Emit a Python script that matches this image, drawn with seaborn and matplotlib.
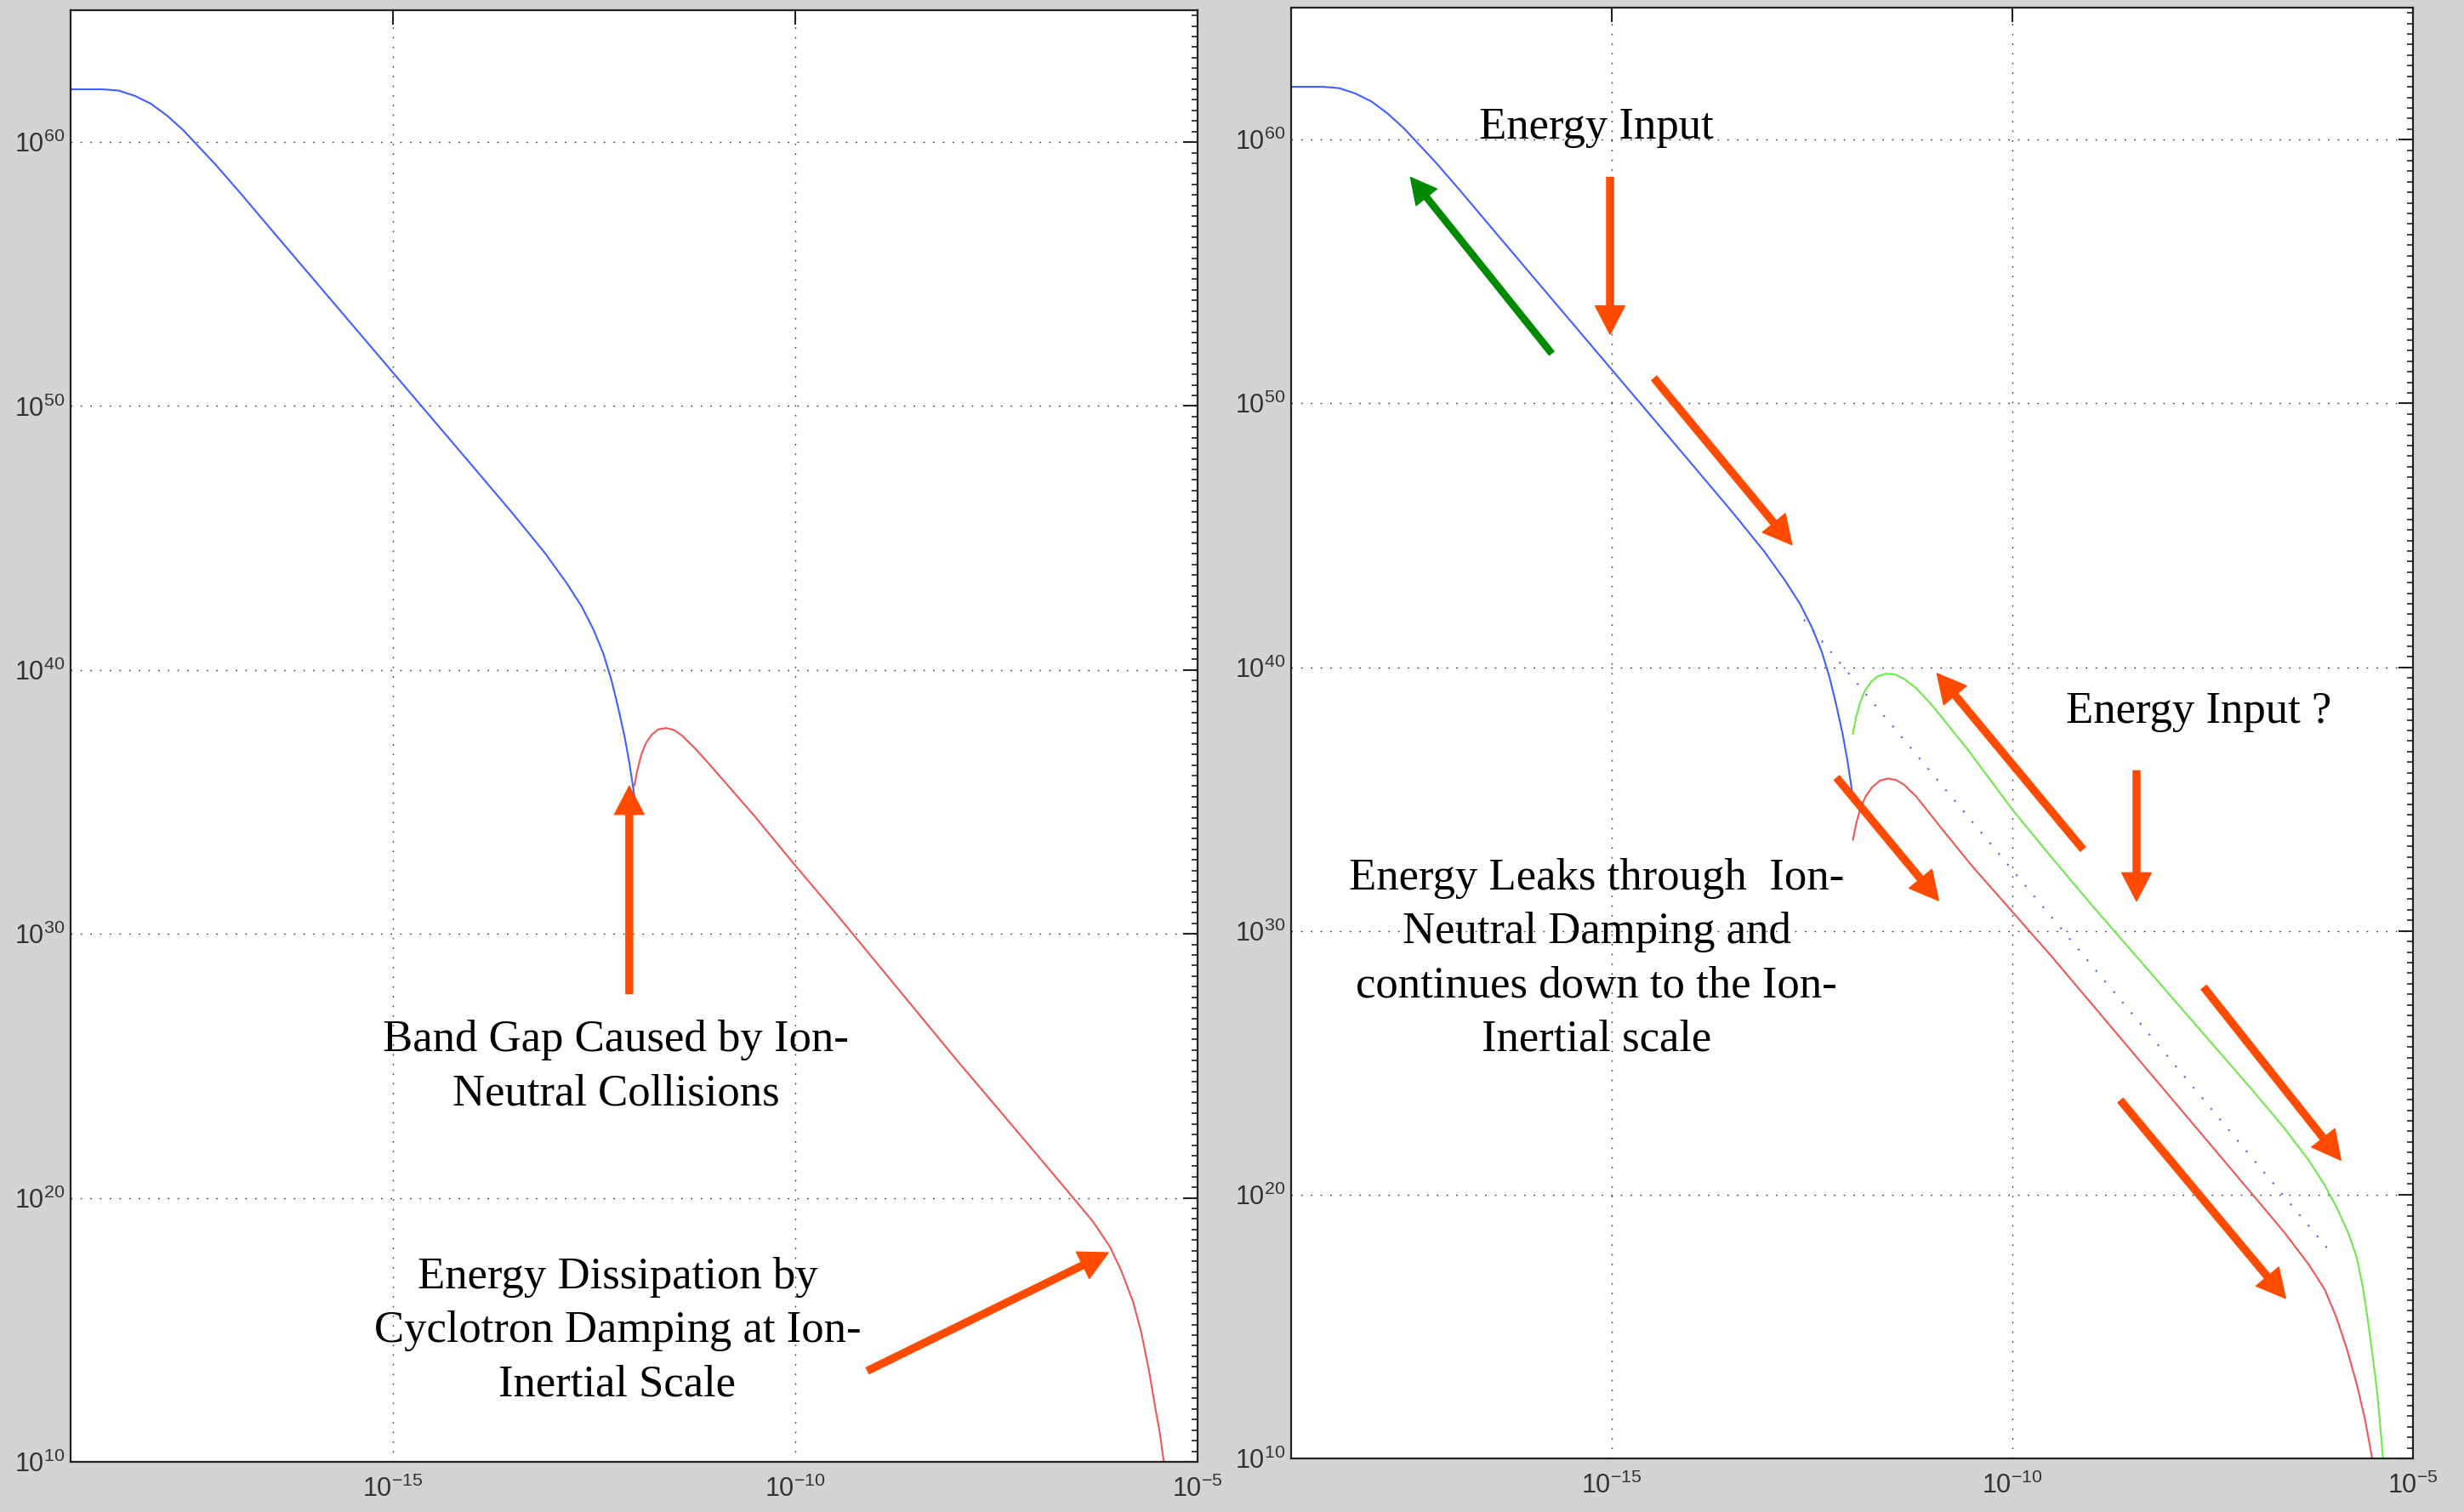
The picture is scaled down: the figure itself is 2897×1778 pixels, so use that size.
import numpy as np
import pandas as pd
import matplotlib
matplotlib.use("Agg")
import matplotlib.pyplot as plt
import seaborn as sns
from matplotlib.ticker import FixedLocator, FuncFormatter, NullLocator, NullFormatter

# curve values as log10(x), log10(y)
blue_lx = [-19.0, -18.6, -18.4, -18.2, -18.0, -17.8, -17.6, -17.4, -17.2, -16.9, -16.4, -15.8,
           -15.2, -14.6, -14.0, -13.5, -13.1, -12.84, -12.65, -12.5, -12.38, -12.28, -12.2,
           -12.12, -12.06, -12.02, -11.99]
blue_ly = [62.0, 62.0, 61.95, 61.75, 61.45, 61.0, 60.45, 59.8, 59.15, 58.1, 56.3, 54.15,
           52.0, 49.85, 47.7, 45.9, 44.4, 43.3, 42.4, 41.5, 40.6, 39.6, 38.6,
           37.5, 36.5, 35.7, 35.1]

left_red_lx = [-12.0, -11.96, -11.91, -11.85, -11.78, -11.7, -11.6, -11.5, -11.4, -11.25, -11.1,
               -10.8, -10.5, -10.0, -9.5, -9.0, -8.5, -8.0, -7.5, -7.0, -6.6, -6.3, -6.09,
               -5.95, -5.8, -5.7, -5.61, -5.54, -5.47, -5.42]
left_red_ly = [35.6, 36.2, 36.8, 37.25, 37.55, 37.75, 37.8, 37.72, 37.5, 37.05, 36.55,
               35.5, 34.45, 32.6, 30.8, 28.95, 27.1, 25.25, 23.45, 21.65, 20.2, 19.1, 18.15,
               17.25, 16.05, 14.9, 13.55, 12.3, 11.1, 10.0]

green_lx = [-11.99, -11.95, -11.9, -11.84, -11.76, -11.68, -11.58, -11.46, -11.35, -11.2, -11.0,
            -10.55, -10.0, -9.5, -9.0, -8.5, -8.0, -7.5, -7.0, -6.6, -6.3, -6.1, -5.95, -5.8,
            -5.7, -5.62, -5.55, -5.5, -5.45, -5.41, -5.37]
green_ly = [37.47, 38.1, 38.65, 39.1, 39.45, 39.65, 39.75, 39.72, 39.55, 39.2, 38.55,
            36.85, 34.6, 32.75, 30.95, 29.2, 27.45, 25.7, 23.95, 22.5, 21.3, 20.35, 19.5, 18.5,
            17.6, 16.4, 14.95, 13.8, 12.6, 11.3, 9.85]

right_red_lx = [-11.99, -11.95, -11.9, -11.83, -11.75, -11.65, -11.55, -11.45, -11.35, -11.2,
                -10.9, -10.5, -10.0, -9.5, -9.0, -8.5, -8.0, -7.5, -7.0, -6.6, -6.3, -6.1,
                -5.95, -5.82, -5.7, -5.6, -5.5]
right_red_ly = [33.45, 34.05, 34.6, 35.1, 35.45, 35.7, 35.78, 35.72, 35.54, 35.1,
                33.95, 32.45, 30.73, 29.0, 27.2, 25.4, 23.6, 21.8, 20.0, 18.55, 17.35, 16.4,
                15.3, 14.1, 12.8, 11.5, 9.85]

extrap_lx = [-12.6, -6.05]
extrap_ly = [41.8, 17.9]

x_ticks = [1e-15, 1e-10, 1e-5]
y_ticks = [1e10, 1e20, 1e30, 1e40, 1e50, 1e60]

BLUE = "#3f5fff"
RED = "#ec5656"
GREEN = "#6ee64e"
ARROW = "#ff4a00"
DARKGREEN = "#008a00"


def frame(lx, ly):
    return pd.DataFrame({"x": 10.0 ** np.array(lx), "y": 10.0 ** np.array(ly)})


sns.set_theme(style="white")
plt.rcParams["font.family"] = ["Liberation Sans", "DejaVu Sans"]
plt.rcParams["mathtext.default"] = "regular"

fig = plt.figure(figsize=(28.97, 17.78), dpi=100, facecolor="#d3d3d3")
ax1 = fig.add_axes([0.02865, 0.0332, 0.4574, 0.9601])
ax2 = fig.add_axes([0.524, 0.0354, 0.4553, 0.9595])

fmt = FuncFormatter(lambda v, pos: r"$\mathregular{10^{%d}}$" % round(np.log10(v)))

for ax in (ax1, ax2):
    ax.set_facecolor("white")
    ax.set_xscale("log")
    ax.set_yscale("log")
    ax.set_xlim(1e-19, 1e-5)
    ax.set_ylim(1e10, 1e65)

# left panel
sns.lineplot(data=frame(blue_lx, blue_ly), x="x", y="y", ax=ax1, color=BLUE,
             lw=1.5, estimator=None, sort=False)
sns.lineplot(data=frame(left_red_lx, left_red_ly), x="x", y="y", ax=ax1, color=RED,
             lw=1.5, estimator=None, sort=False)

# right panel
sns.lineplot(data=frame(blue_lx, blue_ly), x="x", y="y", ax=ax2, color=BLUE,
             lw=1.5, estimator=None, sort=False)
sns.lineplot(data=frame(extrap_lx, extrap_ly), x="x", y="y", ax=ax2, color=BLUE,
             lw=1.5, estimator=None, sort=False, linestyle=(0, (1, 6.8)))
sns.lineplot(data=frame(green_lx, green_ly), x="x", y="y", ax=ax2, color=GREEN,
             lw=1.5, estimator=None, sort=False)
sns.lineplot(data=frame(right_red_lx, right_red_ly), x="x", y="y", ax=ax2, color=RED,
             lw=1.5, estimator=None, sort=False)

for ax in (ax1, ax2):
    ax.set_xlim(1e-19, 1e-5)
    ax.set_ylim(1e10, 1e65)
    ax.xaxis.set_major_locator(FixedLocator(x_ticks))
    ax.yaxis.set_major_locator(FixedLocator(y_ticks))
    ax.xaxis.set_major_formatter(fmt)
    ax.yaxis.set_major_formatter(fmt)
    ax.xaxis.set_minor_locator(NullLocator())
    ax.yaxis.set_minor_locator(FixedLocator(10.0 ** np.arange(10, 65.01, 0.4)))
    ax.yaxis.set_minor_formatter(NullFormatter())
    ax.tick_params(which="major", direction="in", length=12, width=1.5, color="#222222",
                   top=True, right=True, labelsize=22, labelcolor="#333333", pad=5)
    ax.tick_params(axis="x", which="major", pad=12)
    ax.tick_params(which="minor", direction="in", length=5, width=1.2, color="#222222",
                   left=False, right=True, top=False, bottom=False)
    ax.grid(True, which="major", color="#333333", linestyle=(0, (1.2, 7)), linewidth=1.0)
    for s in ax.spines.values():
        s.set_color("#222222")
        s.set_linewidth(1.6)
    ax.set_xlabel("")
    ax.set_ylabel("")


def arrow(ax, tail, head, color, scale=10):
    ax.annotate("", xy=(10 ** head[0], 10 ** head[1]), xytext=(10 ** tail[0], 10 ** tail[1]),
                arrowprops=dict(arrowstyle="simple,head_length=2.4,head_width=2.5,tail_width=0.58",
                                color=color, shrinkA=0, shrinkB=0, mutation_scale=scale))


# arrows: (tail log x, tail log y), (head log x, head log y)
arrow(ax1, (-12.06, 27.74), (-12.06, 35.6), ARROW)
arrow(ax1, (-9.10, 13.45), (-6.11, 17.92), ARROW)

arrow(ax2, (-15.75, 51.9), (-17.51, 58.57), DARKGREEN, scale=9)
arrow(ax2, (-15.02, 58.57), (-15.02, 52.62), ARROW)
arrow(ax2, (-14.47, 50.95), (-12.75, 44.64), ARROW)
arrow(ax2, (-9.12, 33.1), (-10.94, 39.76), ARROW)
arrow(ax2, (-8.45, 36.07), (-8.45, 31.13), ARROW)
arrow(ax2, (-12.19, 35.8), (-10.92, 31.15), ARROW)
arrow(ax2, (-7.61, 27.86), (-5.9, 21.31), ARROW)
arrow(ax2, (-8.65, 23.57), (-6.59, 16.07), ARROW)

W, H = 2897.0, 1778.0
serif = dict(family=["Liberation Serif", "DejaVu Serif"], fontsize=38, color="black",
             ha="center", va="center", multialignment="center", linespacing=1.41)
fig.text(724 / W, 1 - 1255 / H, "Band Gap Caused by Ion-\nNeutral Collisions", **serif)
fig.text(726 / W, 1 - 1565 / H, "Energy Dissipation by\nCyclotron Damping at Ion-\nInertial Scale", **serif)
fig.text(1877 / W, 1 - 150 / H, "Energy Input", **serif)
fig.text(2585 / W, 1 - 837 / H, "Energy Input ?", **serif)
fig.text(1877 / W, 1 - 1128 / H,
         "Energy Leaks through  Ion-\nNeutral Damping and\ncontinues down to the Ion-\nInertial scale",
         **serif)

fig.savefig("out.png", dpi=100, facecolor=fig.get_facecolor())
